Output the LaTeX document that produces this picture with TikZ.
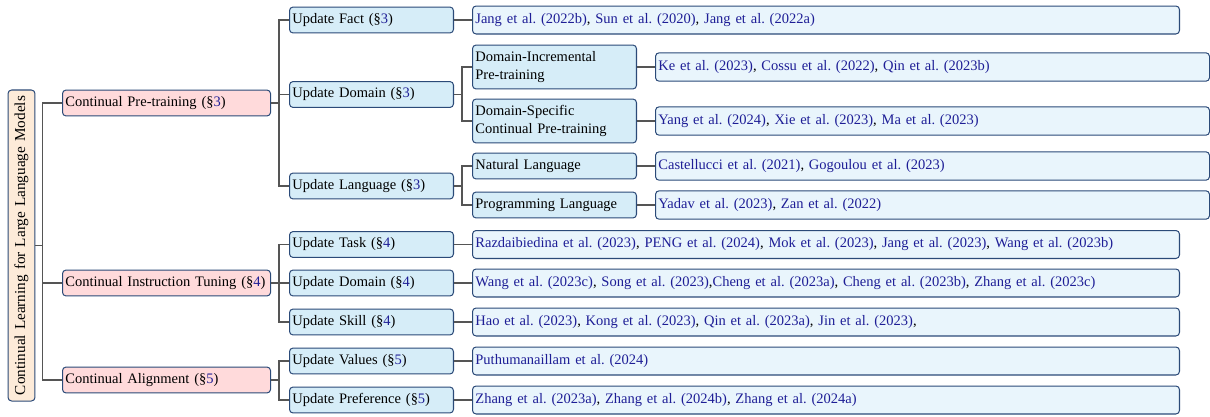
\documentclass[tikz,border=0pt]{standalone}
\usepackage{fontspec}
\setmainfont{Liberation Serif}
\frenchspacing
\definecolor{edgeline}{HTML}{2B4A78}
\definecolor{linkgray}{HTML}{555555}
\definecolor{citeblue}{HTML}{1E1E96}
\definecolor{rootfill}{HTML}{FDEBD9}
\definecolor{topfill}{HTML}{FFDADB}
\definecolor{midfill}{HTML}{D6EDF8}
\definecolor{leaffill}{HTML}{E9F5FC}
\newcommand\ct[1]{\textcolor{citeblue}{#1}}
\newcommand\sectag[1]{(\S\textcolor{citeblue}{#1})}
\tikzset{
  box/.style={draw=edgeline, line width=0.7pt, rounded corners=2.5pt,
    inner xsep=2pt, inner ysep=0pt, anchor=west, align=left,
    font=\fontsize{10}{11.8}\selectfont},
  rootbox/.style={box, fill=rootfill, anchor=center, align=center,
    minimum width=214.5pt, minimum height=18.6pt, text width=210pt,
    font=\fontsize{10.5}{12}\selectfont},
  topbox/.style={box, fill=topfill, text width=139.5pt, minimum height=17.9pt},
  midbox/.style={box, fill=midfill, text width=109.1pt, minimum height=17.9pt},
  tallbox/.style={midbox, minimum height=30.3pt},
  leafwide/.style={box, fill=leaffill, text width=483.6pt, minimum height=19.3pt},
  leafnarrow/.style={box, fill=leaffill, text width=378.1pt, minimum height=19.6pt},
  link/.style={draw=linkgray, line width=0.8pt},
}
\begin{document}
\begin{tikzpicture}[x=0.6897pt, y=-0.6897pt]
\useasboundingbox (0,0) rectangle (1210,417);

% root
\node[rootbox, rotate=90] (root) at (21.5,245.5) {Continual Learning for Large Language Models};

% first level
\node[topbox] (pt)  at (62,103) {Continual Pre-training \sectag{3}};
\node[topbox] (cit) at (62,283) {Continual Instruction Tuning \sectag{4}};
\node[topbox] (ca)  at (62,380) {Continual Alignment \sectag{5}};

% second level
\node[midbox] (fact)  at (289,20)    {Update Fact \sectag{3}};
\node[midbox] (dom3)  at (289,94.5)  {Update Domain \sectag{3}};
\node[midbox] (lang)  at (289,186)   {Update Language \sectag{3}};
\node[midbox] (task)  at (289,244.5) {Update Task \sectag{4}};
\node[midbox] (dom4)  at (289,283)   {Update Domain \sectag{4}};
\node[midbox] (skill) at (289,322)   {Update Skill \sectag{4}};
\node[midbox] (val)   at (289,361)   {Update Values \sectag{5}};
\node[midbox] (pref)  at (289,400)   {Update Preference \sectag{5}};

% third level
\node[tallbox] (di) at (472,67)  {Domain-Incremental\\Pre-training};
\node[tallbox] (ds) at (472,121) {Domain-Specific\\Continual Pre-training};
\node[midbox]  (nl) at (472,166) {Natural Language};
\node[midbox]  (pl) at (472,205) {Programming Language};

% references
\node[leafwide] (factref) at (472,20) {\ct{Jang et al. (2022b)}, \ct{Sun et al. (2020)}, \ct{Jang et al. (2022a)}};
\node[leafnarrow] (diref) at (655,67) {\ct{Ke et al. (2023)}, \ct{Cossu et al. (2022)}, \ct{Qin et al. (2023b)}};
\node[leafnarrow] (dsref) at (655,121) {\ct{Yang et al. (2024)}, \ct{Xie et al. (2023)}, \ct{Ma et al. (2023)}};
\node[leafnarrow] (nlref) at (655,166) {\ct{Castellucci et al. (2021)}, \ct{Gogoulou et al. (2023)}};
\node[leafnarrow] (plref) at (655,205) {\ct{Yadav et al. (2023)}, \ct{Zan et al. (2022)}};
\node[leafwide] (taskref) at (472,244.5) {\ct{Razdaibiedina et al. (2023)}, \ct{PENG et al. (2024)}, \ct{Mok et al. (2023)}, \ct{Jang et al. (2023)}, \ct{Wang et al. (2023b)}};
\node[leafwide] (dom4ref) at (472,283) {\ct{Wang et al. (2023c)}, \ct{Song et al. (2023)},\ct{Cheng et al. (2023a)}, \ct{Cheng et al. (2023b)}, \ct{Zhang et al. (2023c)}};
\node[leafwide] (skillref) at (472,322) {\ct{Hao et al. (2023)}, \ct{Kong et al. (2023)}, \ct{Qin et al. (2023a)}, \ct{Jin et al. (2023)},};
\node[leafwide] (valref) at (472,361) {\ct{Puthumanaillam et al. (2024)}};
\node[leafwide] (prefref) at (472,400) {\ct{Zhang et al. (2023a)}, \ct{Zhang et al. (2024b)}, \ct{Zhang et al. (2024a)}};

% forked connectors
\foreach \c in {pt,cit,ca} \draw[link] (root.south) -- ++(7,0) |- (\c.west);
\foreach \c in {fact,dom3,lang} \draw[link] (pt.east) -- ++(8,0) |- (\c.west);
\foreach \c in {task,dom4,skill} \draw[link] (cit.east) -- ++(8,0) |- (\c.west);
\foreach \c in {val,pref} \draw[link] (ca.east) -- ++(8,0) |- (\c.west);
\foreach \c in {di,ds} \draw[link] (dom3.east) -- ++(8,0) |- (\c.west);
\foreach \c in {nl,pl} \draw[link] (lang.east) -- ++(8,0) |- (\c.west);

% links to references
\foreach \a/\b in {fact/factref,task/taskref,dom4/dom4ref,skill/skillref,val/valref,pref/prefref,di/diref,ds/dsref,nl/nlref,pl/plref}
  \draw[link] (\a.east) -- (\b.west);
\end{tikzpicture}
\end{document}
